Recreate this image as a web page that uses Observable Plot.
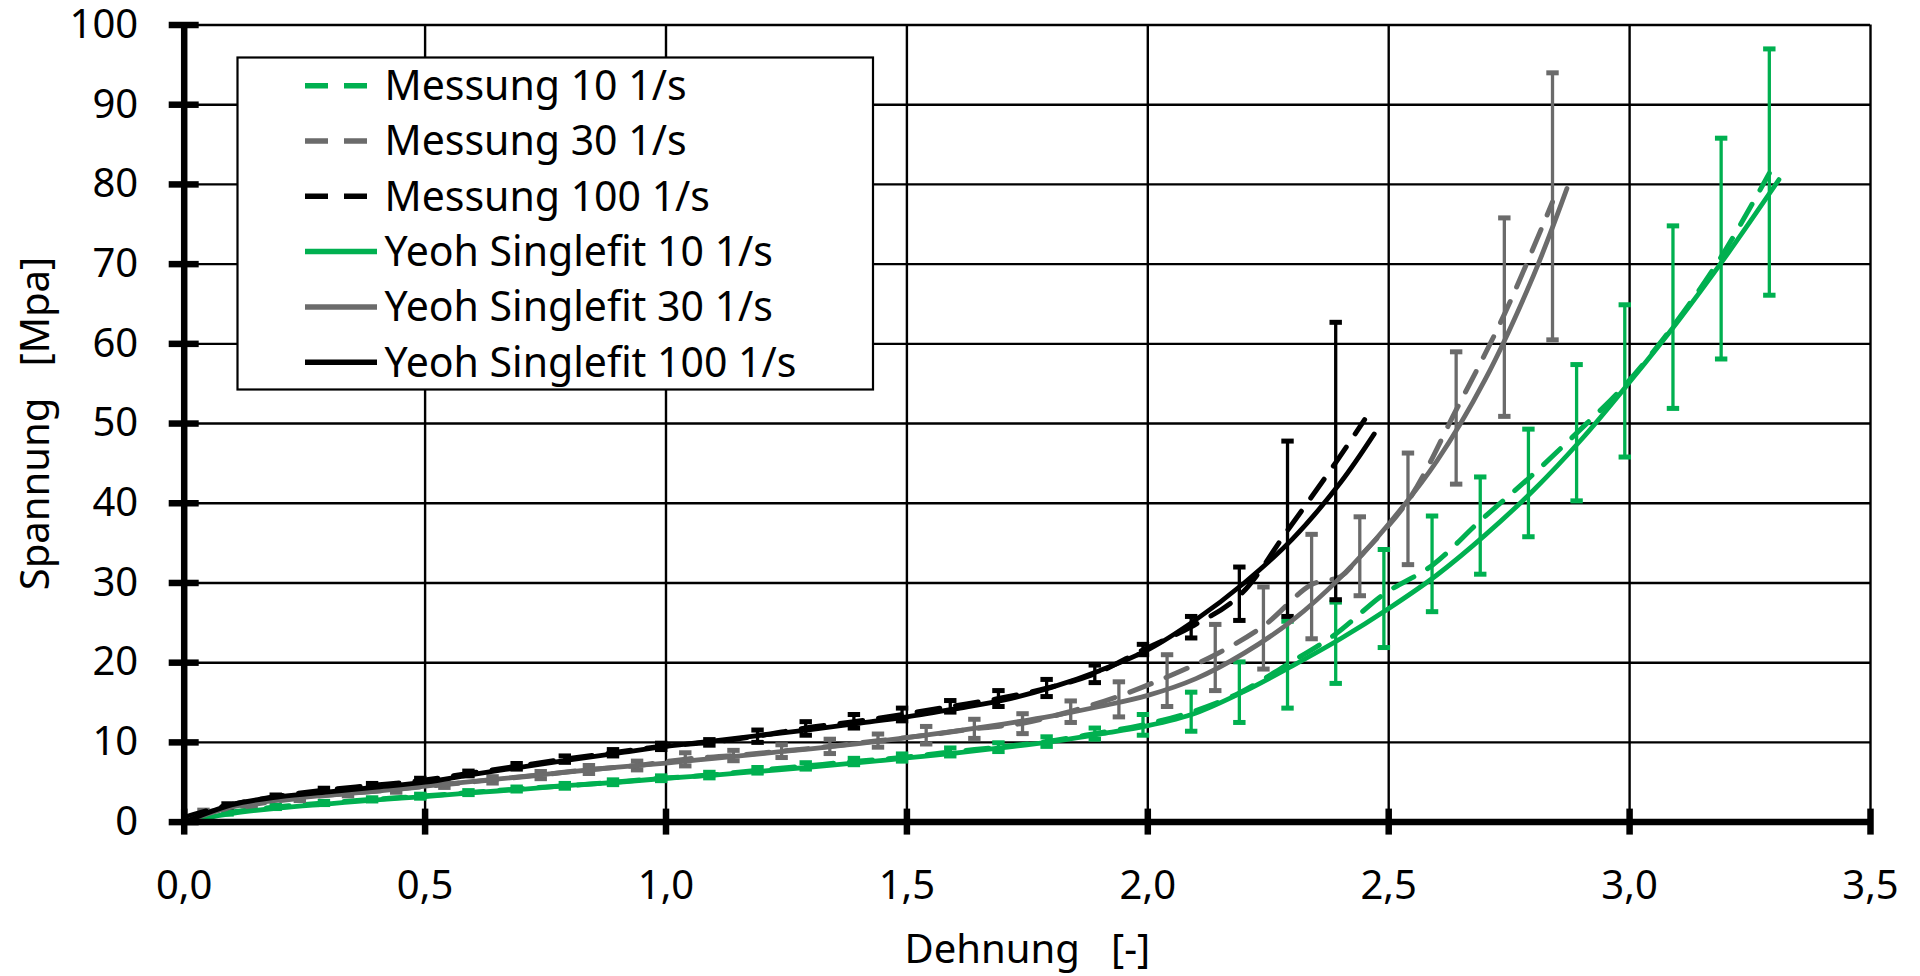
<!DOCTYPE html>
<html><head><meta charset="utf-8">
<script src="https://cdn.jsdelivr.net/npm/d3@7"></script>
<script src="https://cdn.jsdelivr.net/npm/@observablehq/plot@0.6"></script>
<style>
html,body{margin:0;padding:0;background:#fff;}
#chart svg{display:block;}
</style></head><body><div id="chart"></div>
<script>
// ---------- axes / ticks ----------
const xTicks = [0, 0.5, 1.0, 1.5, 2.0, 2.5, 3.0, 3.5];
const xTickLabels = ["0,0", "0,5", "1,0", "1,5", "2,0", "2,5", "3,0", "3,5"];
const yTicks = [0, 10, 20, 30, 40, 50, 60, 70, 80, 90, 100];
const yTickLabels = ["0", "10", "20", "30", "40", "50", "60", "70", "80", "90", "100"];
const xTitle = "Dehnung   [-]";
const yTitle = "Spannung   [Mpa]";

// ---------- Messung 10 1/s ----------
const mess10X  = [0.09,0.19,0.29,0.39,0.49,0.59,0.69,0.79,0.89,0.99,1.09,1.19,1.29,1.39,1.49,1.59,1.69,1.79,1.89,1.99,2.09,2.19,2.29,2.39,2.49,2.59,2.69,2.79,2.89,2.99,3.09,3.19,3.29];
const mess10Y  = [1.2,1.9,2.4,2.85,3.25,3.7,4.15,4.55,5.0,5.5,5.9,6.5,7.05,7.6,8.1,8.8,9.4,10.1,11.1,12.2,13.8,16.2,19.8,23.6,28.6,32.2,37.8,43.1,48.8,54.8,62.2,70.9,81.4];
const mess10Lo = [1.0,1.7,2.2,2.65,3.0,3.45,3.9,4.25,4.7,5.2,5.55,6.15,6.65,7.2,7.65,8.3,8.85,9.5,10.4,10.9,11.4,12.5,14.3,17.4,21.9,26.4,31.1,35.8,40.3,45.8,51.9,58.1,66.1];
const mess10Hi = [1.4,2.1,2.6,3.05,3.5,3.95,4.4,4.85,5.3,5.8,6.25,6.85,7.45,8.0,8.55,9.3,9.95,10.7,11.8,13.5,16.3,20.1,25.2,27.6,34.2,38.4,43.3,49.3,57.4,64.9,74.8,85.8,97.0];

// ---------- Messung 30 1/s ----------
const mess30X  = [0.04,0.14,0.24,0.34,0.44,0.54,0.64,0.74,0.84,0.94,1.04,1.14,1.24,1.34,1.44,1.54,1.64,1.74,1.84,1.94,2.04,2.14,2.24,2.34,2.40,2.44,2.54,2.64,2.74,2.84];
const mess30Y  = [1.2,2.2,3.0,3.6,4.1,4.7,5.3,5.9,6.6,7.1,7.9,8.35,8.9,9.5,10.2,10.9,11.7,12.4,13.9,15.8,18.2,21.0,24.6,29.8,30.8,33.3,40.3,51.7,63.7,77.8];
const mess30Lo = [0.9,1.9,2.7,3.3,3.75,4.35,4.9,5.45,6.1,6.55,7.05,7.7,8.1,8.6,9.4,9.8,10.5,11.1,12.5,13.2,14.5,16.5,19.2,23.0,null,28.4,32.3,42.4,50.9,60.5];
const mess30Hi = [1.5,2.5,3.3,3.9,4.45,5.05,5.7,6.35,7.1,7.65,8.7,9.0,9.7,10.4,11.05,12.0,12.9,13.6,15.2,17.6,21.0,24.8,29.5,36.1,null,38.3,46.3,59.0,75.8,94.0];

// ---------- Messung 100 1/s ----------
const mess100X  = [0.0,0.09,0.19,0.29,0.39,0.49,0.59,0.69,0.79,0.89,0.99,1.09,1.19,1.29,1.39,1.49,1.59,1.69,1.79,1.89,1.99,2.09,2.19,2.29,2.39,2.45];
const mess100Y  = [0.6,2.1,3.2,4.0,4.6,5.2,6.1,7.0,7.9,8.7,9.5,10.0,10.8,11.8,12.6,13.5,14.5,15.5,16.8,18.6,21.6,24.5,28.4,36.6,45.1,50.5];
const mess100Lo = [null,1.9,3.0,3.75,4.35,4.9,5.8,6.65,7.5,8.3,9.1,9.65,10.0,10.9,11.8,12.7,13.8,14.5,15.75,17.5,21.0,23.1,25.3,25.8,27.9,null];
const mess100Hi = [null,2.3,3.4,4.25,4.85,5.5,6.4,7.35,8.3,9.1,9.9,10.35,11.55,12.6,13.5,14.3,15.25,16.5,17.9,19.7,22.3,25.8,32.0,47.8,62.7,null];

// ---------- Yeoh Singlefit ----------
const fit10X = [0,0.1,0.2,0.3,0.4,0.5,0.6,0.7,0.8,0.9,1.0,1.1,1.2,1.3,1.4,1.5,1.6,1.7,1.8,1.9,2.0,2.1,2.2,2.3,2.4,2.5,2.6,2.7,2.8,2.9,3.0,3.1,3.2,3.31];
const fit10Y = [0,1.1,1.8,2.3,2.8,3.2,3.7,4.1,4.6,5.0,5.5,5.9,6.4,6.9,7.45,8.05,8.65,9.35,10.1,11.05,12.1,13.7,16.4,19.6,23.0,26.8,31.0,36.0,41.6,48.0,55.2,62.8,71.0,80.6];
const fit30X = [0,0.1,0.2,0.3,0.4,0.5,0.6,0.7,0.8,0.9,1.0,1.1,1.2,1.3,1.4,1.5,1.6,1.7,1.8,1.9,2.0,2.1,2.2,2.3,2.4,2.5,2.6,2.7,2.8,2.87];
const fit30Y = [0,1.9,2.8,3.4,3.9,4.5,5.1,5.7,6.3,6.9,7.4,8.0,8.6,9.2,9.85,10.6,11.4,12.3,13.3,14.5,15.9,18.0,21.2,25.3,30.7,37.4,45.3,55.5,68.5,79.5];
const fit100X = [0,0.1,0.2,0.3,0.4,0.5,0.6,0.7,0.8,0.9,1.0,1.1,1.2,1.3,1.4,1.5,1.6,1.7,1.8,1.9,2.0,2.1,2.2,2.3,2.4,2.47];
const fit100Y = [0,2.2,3.2,3.8,4.4,5.0,6.0,6.9,7.8,8.65,9.5,10.2,10.9,11.6,12.4,13.2,14.2,15.3,16.9,19.0,21.6,25.4,30.0,35.5,42.6,48.7];

const seriesNames = ["Messung 10 1/s","Messung 30 1/s","Messung 100 1/s","Yeoh Singlefit 10 1/s","Yeoh Singlefit 30 1/s","Yeoh Singlefit 100 1/s"];
const GREEN = "#00b050", GRAY = "#6b6b6b", BLACK = "#000000";
const seriesColors = [GREEN, GRAY, BLACK, GREEN, GRAY, BLACK];
const seriesDashed = [true, true, true, false, false, false];

// ---------- build tables ----------
const toRows = (xs, ys, lo, hi) => xs.map((x, i) => ({x, y: ys[i], lo: lo ? lo[i] : null, hi: hi ? hi[i] : null}));
const mess = [
  {rows: toRows(mess10X, mess10Y, mess10Lo, mess10Hi), color: GREEN},
  {rows: toRows(mess30X, mess30Y, mess30Lo, mess30Hi), color: GRAY},
  {rows: toRows(mess100X, mess100Y, mess100Lo, mess100Hi), color: BLACK}
];
const fits = [
  {rows: toRows(fit10X, fit10Y), color: GREEN},
  {rows: toRows(fit30X, fit30Y), color: GRAY},
  {rows: toRows(fit100X, fit100Y), color: BLACK}
];

const capSymbol = {draw(ctx, size) { const w = Math.sqrt(size); ctx.moveTo(-w / 2, 0); ctx.lineTo(w / 2, 0); }};
const DASH = "23,16";

const marks = [
  Plot.ruleX(xTicks.slice(1), {stroke: "black", strokeWidth: 2.4}),
  Plot.ruleY(yTicks.slice(1), {stroke: "black", strokeWidth: 2.4})
];
for (const m of mess) {
  const bars = m.rows.filter(d => d.lo != null);
  marks.push(Plot.ruleX(bars, {x: "x", y1: "lo", y2: "hi", stroke: m.color, strokeWidth: 3.3}));
  marks.push(Plot.dot(bars, {x: "x", y: "lo", symbol: capSymbol, r: 7, stroke: m.color, strokeWidth: 5, fill: "none"}));
  marks.push(Plot.dot(bars, {x: "x", y: "hi", symbol: capSymbol, r: 7, stroke: m.color, strokeWidth: 5, fill: "none"}));
  marks.push(Plot.line(m.rows, {x: "x", y: "y", stroke: m.color, strokeWidth: 5, strokeDasharray: DASH, curve: "catmull-rom"}));
}
for (const f of fits) {
  marks.push(Plot.line(f.rows, {x: "x", y: "y", stroke: f.color, strokeWidth: 4.8, curve: "catmull-rom"}));
}
marks.push(
  Plot.ruleX([0], {stroke: "black", strokeWidth: 6.5}),
  Plot.ruleY([0], {stroke: "black", strokeWidth: 6.5}),
  Plot.axisY({ticks: yTicks, tickSize: 30, dx: 15, tickFormat: () => "", stroke: "black", strokeWidth: 6.5, label: null}),
  Plot.axisY({ticks: yTicks, tickSize: 0, tickPadding: 46, tickFormat: (d) => yTickLabels[yTicks.indexOf(d)], fill: "black", label: null}),
  Plot.axisX({ticks: xTicks, tickSize: 26, dy: -13, tickFormat: () => "", stroke: "black", strokeWidth: 6.5, label: null}),
  Plot.axisX({ticks: xTicks, tickSize: 0, tickPadding: 48, tickFormat: (d) => xTickLabels[xTicks.indexOf(d)], fill: "black", label: null}),
  Plot.text([xTitle], {frameAnchor: "bottom", dy: 128, textAnchor: "middle", lineAnchor: "middle", fill: "black"}),
  Plot.text([yTitle], {frameAnchor: "left", dx: -148, rotate: -90, textAnchor: "middle", lineAnchor: "middle", fill: "black"})
);

const plot = Plot.plot({
  width: 1920, height: 976,
  marginTop: 24.5, marginRight: 50, marginBottom: 154.4, marginLeft: 183.7,
  style: {fontFamily: "'Noto Sans', sans-serif", fontSize: "40px", color: "black", background: "white", overflow: "visible"},
  x: {domain: [0, 3.5]},
  y: {domain: [0, 100]},
  marks
});
document.getElementById("chart").appendChild(plot);

// ---------- legend (inside the plot area, boxed) ----------
const svg = d3.select(plot);
const lg = svg.append("g").attr("text-anchor", "start");
lg.append("rect").attr("x", 237.5).attr("y", 57.5).attr("width", 635.5).attr("height", 332)
  .attr("fill", "white").attr("stroke", "black").attr("stroke-width", 2.2);
seriesNames.forEach((name, i) => {
  const cy = 85.7 + i * 55.3;
  lg.append("line").attr("x1", 305).attr("x2", seriesDashed[i] ? 367 : 377).attr("y1", cy).attr("y2", cy)
    .attr("stroke", seriesColors[i]).attr("stroke-width", 5.5)
    .attr("stroke-dasharray", seriesDashed[i] ? DASH : null);
  lg.append("text").attr("x", 384.5).attr("y", cy).attr("dy", "0.35em").attr("text-anchor", "start")
    .attr("font-family", "'Noto Sans', sans-serif").attr("font-size", 41).attr("fill", "black").text(name);
});
</script>
</body></html>
